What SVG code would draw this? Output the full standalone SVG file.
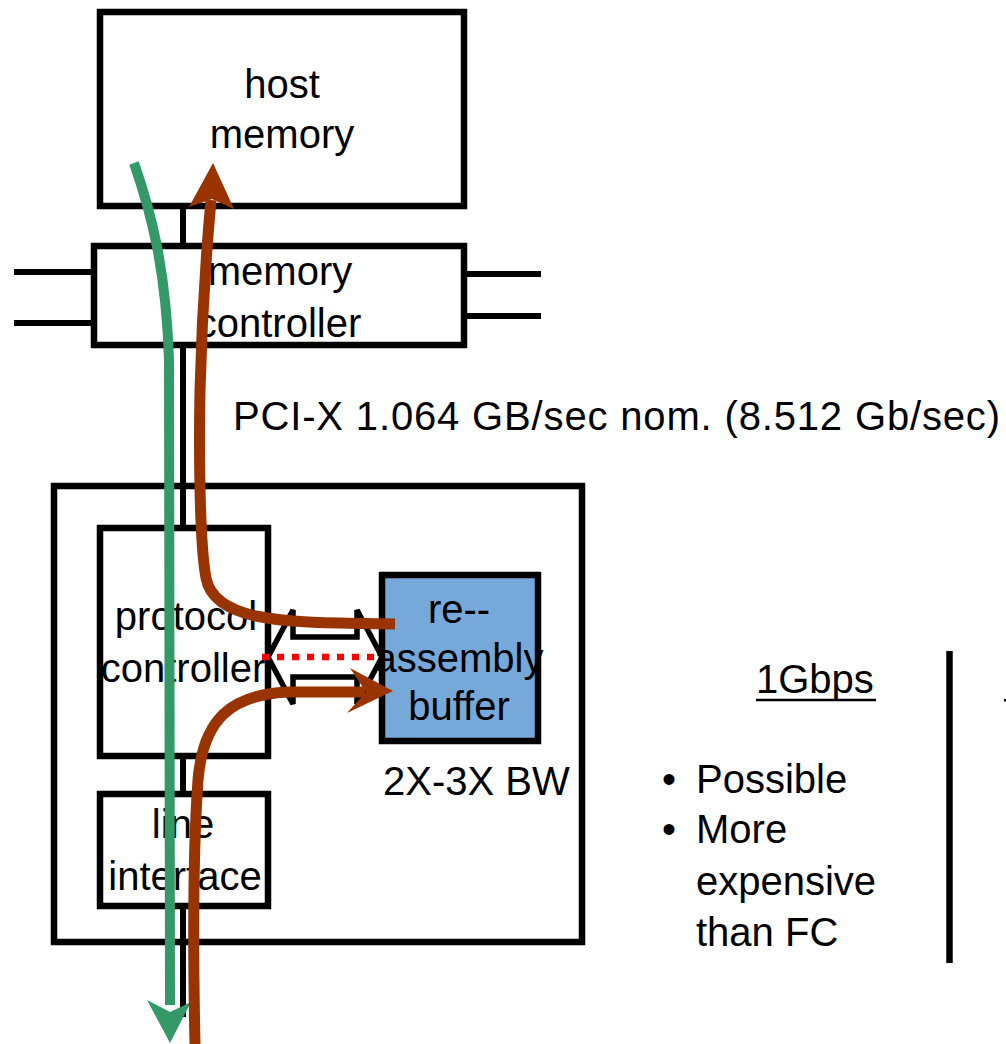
<svg xmlns="http://www.w3.org/2000/svg" width="1006" height="1044" viewBox="0 0 1006 1044">
<style>
text{font-family:"Liberation Sans",Arial,sans-serif;font-size:40px;fill:#000}
.c{text-anchor:middle}
.box{fill:#fff;stroke:#000;stroke-width:6.5}
.ln{stroke:#000;stroke-width:6;fill:none}
.green{stroke:#339966;stroke-width:10;fill:none}
.brown{stroke:#993300;stroke-width:11;fill:none}
</style>
<rect width="1006" height="1044" fill="#fff"/>
<g id="bus-lines">
<line class="ln" x1="14" y1="272" x2="94" y2="272"/>
<line class="ln" x1="14" y1="323" x2="94" y2="323"/>
<line class="ln" x1="464" y1="274" x2="541" y2="274"/>
<line class="ln" x1="464" y1="316" x2="541" y2="316"/>
<line class="ln" x1="183" y1="206" x2="183" y2="246"/>
<line class="ln" x1="183" y1="345" x2="183" y2="528"/>
<line class="ln" x1="183" y1="756" x2="183" y2="794"/>
<line class="ln" x1="183" y1="906" x2="183" y2="1017"/>
</g>
<g id="nic">
<rect class="box" x="54" y="486" width="528" height="456" fill="none" style="fill:none"/>
</g>
<g id="host-memory">
<rect class="box" x="100" y="12" width="364" height="194"/>
<text class="c" x="282" y="98">host</text>
<text class="c" x="282" y="148">memory</text>
</g>
<g id="memory-controller">
<rect class="box" x="94" y="246" width="370" height="99"/>
<text class="c" x="280" y="285">memory</text>
<text class="c" x="279" y="337">controller</text>
</g>
<g id="protocol-controller">
<rect class="box" x="100" y="528" width="168" height="228"/>
<text class="c" x="186" y="630">protocol</text>
<text class="c" x="183" y="682">controller</text>
</g>
<g id="line-interface">
<rect class="box" x="100" y="794" width="168" height="112"/>
<text class="c" x="183" y="838">line</text>
<text class="c" x="185" y="890">interface</text>
</g>
<g id="double-arrow">
<polygon points="268,657 293,610 293,637 357,637 357,610 382,657 357,704 357,677 293,677 293,704" fill="#fff" stroke="#000" stroke-width="5.5" stroke-linejoin="miter"/>
<line x1="262" y1="657" x2="382" y2="657" stroke="#ff0000" stroke-width="6.5" stroke-dasharray="7,8"/>
</g>
<g id="reassembly-buffer">
<rect x="382" y="575" width="156" height="166" fill="#76a8da" stroke="#000" stroke-width="6.5"/>
<text class="c" x="459" y="623">re--</text>
<text class="c" x="459" y="672">assembly</text>
<text class="c" x="459" y="720">buffer</text>
</g>
<g id="labels">
<text x="233" y="430" textLength="767">PCI-X 1.064 GB/sec nom. (8.512 Gb/sec)</text>
<text x="383" y="795">2X-3X BW</text>
<text x="756" y="693">1Gbps</text>
<line x1="756" y1="700" x2="876" y2="700" stroke="#000" stroke-width="2.5"/>
<text x="662" y="793">•</text>
<text x="696" y="793">Possible</text>
<text x="662" y="843">•</text>
<text x="696" y="843">More</text>
<text x="696" y="895">expensive</text>
<text x="696" y="946">than FC</text>
<line x1="949.5" y1="651" x2="949.5" y2="963" stroke="#000" stroke-width="6.5"/>
<rect x="1004" y="699" width="2" height="2.5" fill="#000"/>
</g>
<g id="connectors">
<path class="green" d="M134,163 C152,215 166,270 169,360 L170,1005"/>
<polygon points="170,1043 147,1000 170,1012 191,1002" fill="#339966"/>
<path class="brown" d="M395,624 C300,622 215,626 206,578 C199,540 199,440 200,390 C202,310 206,255 211,200"/>
<polygon points="213,163 234,209 212,199 189,207" fill="#993300"/>
<path class="brown" d="M195,1044 C193,950 193,850 198,780 C203,720 230,694 290,692 L365,692"/>
<polygon points="393,691 350,668 366,692 347,713" fill="#993300"/>
</g>
</svg>
